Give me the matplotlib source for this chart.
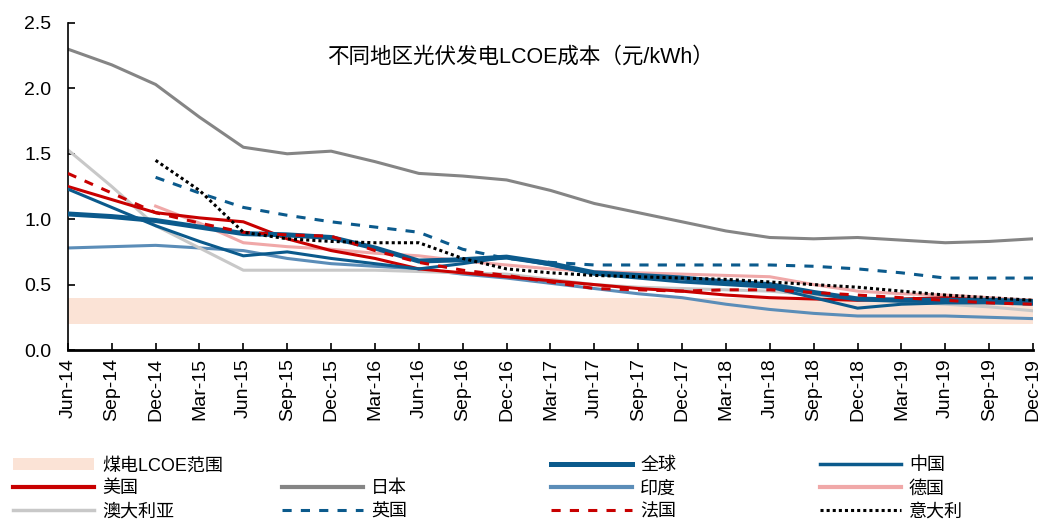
import matplotlib
matplotlib.use("Agg")
import matplotlib.pyplot as plt
import numpy as np
from matplotlib.lines import Line2D
from matplotlib.patches import Patch

plt.rcParams['font.family'] = ['Liberation Sans', 'Noto Sans CJK SC', 'DejaVu Sans']

nan = np.nan
quarters = ["Jun-14", "Sep-14", "Dec-14", "Mar-15", "Jun-15", "Sep-15", "Dec-15", "Mar-16",
            "Jun-16", "Sep-16", "Dec-16", "Mar-17", "Jun-17", "Sep-17", "Dec-17", "Mar-18",
            "Jun-18", "Sep-18", "Dec-18", "Mar-19", "Jun-19", "Sep-19", "Dec-19"]

# 元/kWh, quarterly
global_ = [1.04, 1.02, 0.99, 0.94, 0.89, 0.88, 0.86, 0.78, 0.68, 0.69, 0.71, 0.66, 0.59, 0.57, 0.55, 0.52, 0.50, 0.44, 0.39, 0.38, 0.38, 0.38, 0.37]
china   = [1.23, 1.09, 0.95, 0.83, 0.72, 0.75, 0.70, 0.66, 0.62, 0.66, 0.71, 0.65, 0.58, 0.55, 0.52, 0.50, 0.48, 0.40, 0.32, 0.35, 0.36, 0.36, 0.35]
usa     = [1.25, 1.15, 1.05, 1.01, 0.98, 0.85, 0.76, 0.70, 0.62, 0.59, 0.56, 0.53, 0.50, 0.47, 0.45, 0.42, 0.40, 0.39, 0.38, 0.39, 0.40, 0.38, 0.37]
japan   = [2.30, 2.18, 2.03, 1.78, 1.55, 1.50, 1.52, 1.44, 1.35, 1.33, 1.30, 1.22, 1.12, 1.05, 0.98, 0.91, 0.86, 0.85, 0.86, 0.84, 0.82, 0.83, 0.85]
india   = [0.78, 0.79, 0.80, 0.78, 0.76, 0.70, 0.66, 0.64, 0.62, 0.58, 0.55, 0.51, 0.47, 0.43, 0.40, 0.35, 0.31, 0.28, 0.26, 0.26, 0.26, 0.25, 0.24]
germany = [nan, nan, 1.10, 0.97, 0.82, 0.79, 0.77, 0.74, 0.72, 0.68, 0.65, 0.62, 0.60, 0.59, 0.58, 0.57, 0.56, 0.50, 0.45, 0.43, 0.42, 0.40, 0.38]
austral = [1.53, 1.25, 0.95, 0.78, 0.61, 0.61, 0.61, 0.61, 0.60, 0.59, 0.58, 0.54, 0.50, 0.48, 0.47, 0.46, 0.45, 0.42, 0.40, 0.37, 0.35, 0.33, 0.30]
uk      = [nan, nan, 1.32, 1.20, 1.09, 1.03, 0.98, 0.94, 0.90, 0.77, 0.70, 0.67, 0.65, 0.65, 0.65, 0.65, 0.65, 0.64, 0.62, 0.59, 0.55, 0.55, 0.55]
france  = [1.35, 1.20, 1.05, 0.97, 0.90, 0.88, 0.87, 0.76, 0.67, 0.61, 0.57, 0.52, 0.47, 0.46, 0.45, 0.46, 0.46, 0.44, 0.42, 0.40, 0.38, 0.36, 0.35]
italy   = [nan, nan, 1.45, 1.22, 0.90, 0.85, 0.83, 0.82, 0.82, 0.70, 0.62, 0.59, 0.57, 0.56, 0.55, 0.54, 0.52, 0.50, 0.48, 0.45, 0.42, 0.40, 0.38]
coal_low, coal_high = 0.20, 0.40

blue = "#0B5A8C"
red = "#C80000"
dash = (0, (3, 3))
dots = (0, (1.0, 1.0))

fig = plt.figure(figsize=(10.44, 5.22), dpi=100)
ax = fig.add_axes([0.065, 0.3295, 0.9245, 0.6265])
x = np.arange(len(quarters))

ax.axhspan(coal_low, coal_high, color="#FBE3D6", lw=0, zorder=0)
ax.plot(x, india, color="#5B8DB8", lw=2.2, zorder=2)
ax.plot(x, austral, color="#C8C8C8", lw=2.2, zorder=2)
ax.plot(x, germany, color="#F0A8A8", lw=2.2, zorder=2)
ax.plot(x, japan, color="#858585", lw=2.2, zorder=2)
ax.plot(x, usa, color=red, lw=2.2, zorder=3)
ax.plot(x, china, color=blue, lw=2.2, zorder=3)
ax.plot(x, global_, color=blue, lw=3.6, zorder=3)
ax.plot(x, uk, color=blue, lw=2.2, ls=dash, zorder=4)
ax.plot(x, france, color=red, lw=2.2, ls=dash, zorder=4)
ax.plot(x, italy, color="black", lw=2.2, ls=dots, zorder=5)

ax.set_xlim(0, len(quarters) - 1)
ax.set_ylim(0, 2.5)
ax.set_yticks([0, 0.5, 1.0, 1.5, 2.0, 2.5])
ax.set_yticklabels(["%.1f" % v for v in [0, 0.5, 1.0, 1.5, 2.0, 2.5]])
ax.set_xticks(x)
ax.set_xticklabels(quarters, rotation=90)
ax.tick_params(axis="y", direction="in", length=5, width=1.2, labelsize=14, pad=12)
ax.tick_params(axis="x", direction="in", length=5, width=1.2, labelsize=14, pad=6)
for s in ["top", "right"]:
    ax.spines[s].set_visible(False)
ax.spines["left"].set_linewidth(1.2)
ax.spines["bottom"].set_linewidth(2)

ax.text(0.469, 0.896, "不同地区光伏发电LCOE成本（元/kWh）", transform=ax.transAxes,
        ha="center", va="center", fontsize=15.5)

# legend, one per column so the columns are evenly spaced
def lh(color, lw=2.2, ls="-"):
    return Line2D([], [], color=color, lw=lw, ls=ls)

blank = Line2D([], [], color="none")
columns = [
    [(Patch(facecolor="#FBE3D6", edgecolor="none"), "煤电LCOE范围"), (lh(red, 3), "美国"), (lh("#C8C8C8", 2.5), "澳大利亚")],
    [(blank, ""), (lh("#858585", 3), "日本"), (lh(blue, 2.2, dash), "英国")],
    [(lh(blue, 3.6), "全球"), (lh("#5B8DB8", 3), "印度"), (lh(red, 2.2, dash), "法国")],
    [(lh(blue, 2.5), "中国"), (lh("#F0A8A8", 3), "德国"), (lh("black", 2.2, dots), "意大利")],
]
for i, col in enumerate(columns):
    fig.legend([h for h, _ in col], [l for _, l in col], loc="upper left",
               bbox_to_anchor=(0.0125 + i * 0.2575, 0.124), frameon=False,
               fontsize=13, handlelength=4.5, handleheight=0.7, handletextpad=0.45,
               labelspacing=0.34, borderaxespad=0, borderpad=0)

fig.savefig("out.png", dpi=100)
